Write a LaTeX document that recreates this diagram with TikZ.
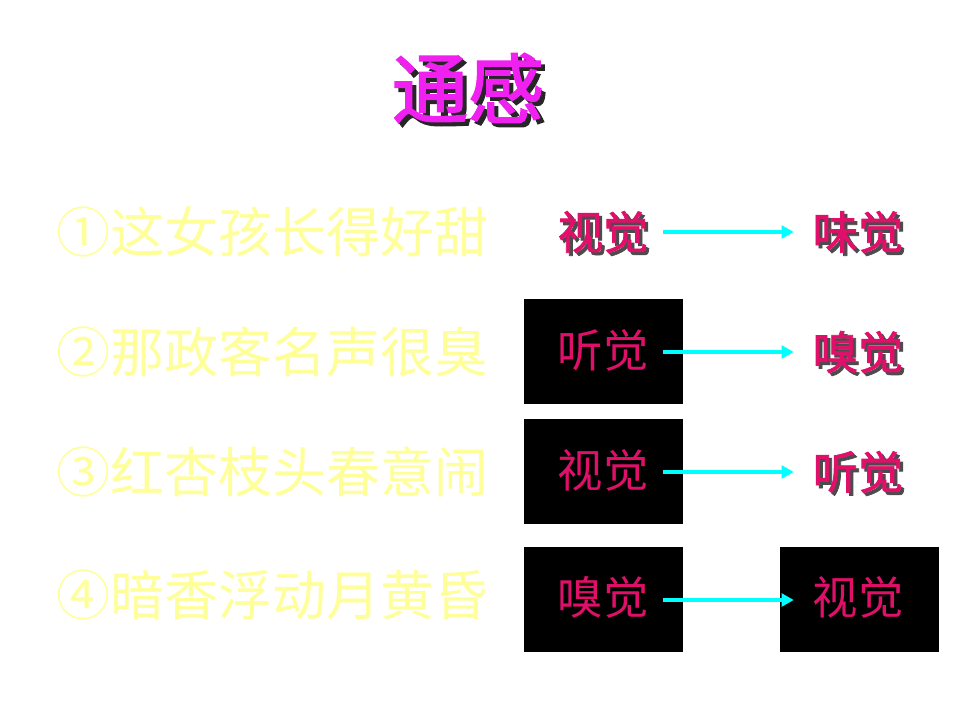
\documentclass[tikz,border=0pt]{standalone}
\usepackage{fontspec}
\newfontfamily\cjk{Noto Sans CJK SC}
\newfontfamily\cjkfb[FakeBold=1.6]{Noto Sans CJK SC}
\newfontfamily\cjkfbt[FakeBold=2.2]{Noto Sans CJK SC}
\usetikzlibrary{arrows.meta}
\definecolor{titlemag}{HTML}{F020F0}
\definecolor{paleyel}{HTML}{FFFF99}
\definecolor{wordred}{HTML}{E0106A}
\definecolor{arrcyan}{HTML}{00FFFF}
\tikzset{
  sentence/.style={inner sep=0pt, text=paleyel, font=\cjk\fontsize{40.5pt}{44pt}\selectfont},
  wordbold/.style={inner sep=0pt, text=wordred, font=\cjkfb\fontsize{34pt}{38pt}\selectfont},
  wordshadow/.style={inner sep=0pt, text=black!70, font=\cjkfb\fontsize{34pt}{38pt}\selectfont},
  wordplain/.style={inner sep=0pt, text=wordred, font=\cjk\fontsize{34pt}{38pt}\selectfont},
  titlefont/.style={inner sep=0pt, font=\cjkfbt\fontsize{57pt}{60pt}\selectfont},
  blackbox/.style={fill=black, draw=none},
  senseArrow/.style={draw=arrcyan, line width=3.4pt, -{Triangle[length=9pt,width=9.5pt]}, shorten <=11pt, shorten >=14pt},
}
\begin{document}
\begin{tikzpicture}[x=0.75pt,y=-0.75pt]
\fill[white] (0,0) rectangle (960,720);
\useasboundingbox (0,0) rectangle (960,720);
% title
\node[titlefont, text=black!85] (tshadow) at (472,92) {通感};
\node[titlefont, text=titlemag] (title) at (468,88) {通感};
% black boxes
\fill[blackbox] (524,299) rectangle (683,404);
\fill[blackbox] (524,419) rectangle (683,524);
\fill[blackbox] (524,547) rectangle (683,652);
\fill[blackbox] (780,547) rectangle (939,652);
% sentences
\node[sentence] (s1) at (272,232) {①这女孩长得好甜};
\node[sentence] (s2) at (272,352) {②那政客名声很臭};
\node[sentence] (s3) at (272,472) {③红杏枝头春意闹};
\node[sentence] (s4) at (272,595) {④暗香浮动月黄昏};
% row 1
\node[wordshadow] (a1s) at (606,235) {视觉};
\node[wordbold] (a1) at (603,232) {视觉};
\node[wordshadow] (b1s) at (861,235) {味觉};
\node[wordbold] (b1) at (858,232) {味觉};
% row 2
\node[wordplain] (a2) at (603,350) {听觉};
\node[wordshadow] (b2s) at (861,355) {嗅觉};
\node[wordbold] (b2) at (858,352) {嗅觉};
% row 3
\node[wordplain] (a3) at (603,470) {视觉};
\node[wordshadow] (b3s) at (861,475) {听觉};
\node[wordbold] (b3) at (858,472) {听觉};
% row 4
\node[wordplain] (a4) at (603,597) {嗅觉};
\node[wordplain] (b4) at (858,597) {视觉};
% arrows
\draw[senseArrow] (a1.east |- 0,232) -- (b1.west |- 0,232);
\draw[senseArrow] (a2.east |- 0,352) -- (b2.west |- 0,352);
\draw[senseArrow] (a3.east |- 0,472) -- (b3.west |- 0,472);
\draw[senseArrow] (a4.east |- 0,600) -- (b4.west |- 0,600);
\end{tikzpicture}
\end{document}
